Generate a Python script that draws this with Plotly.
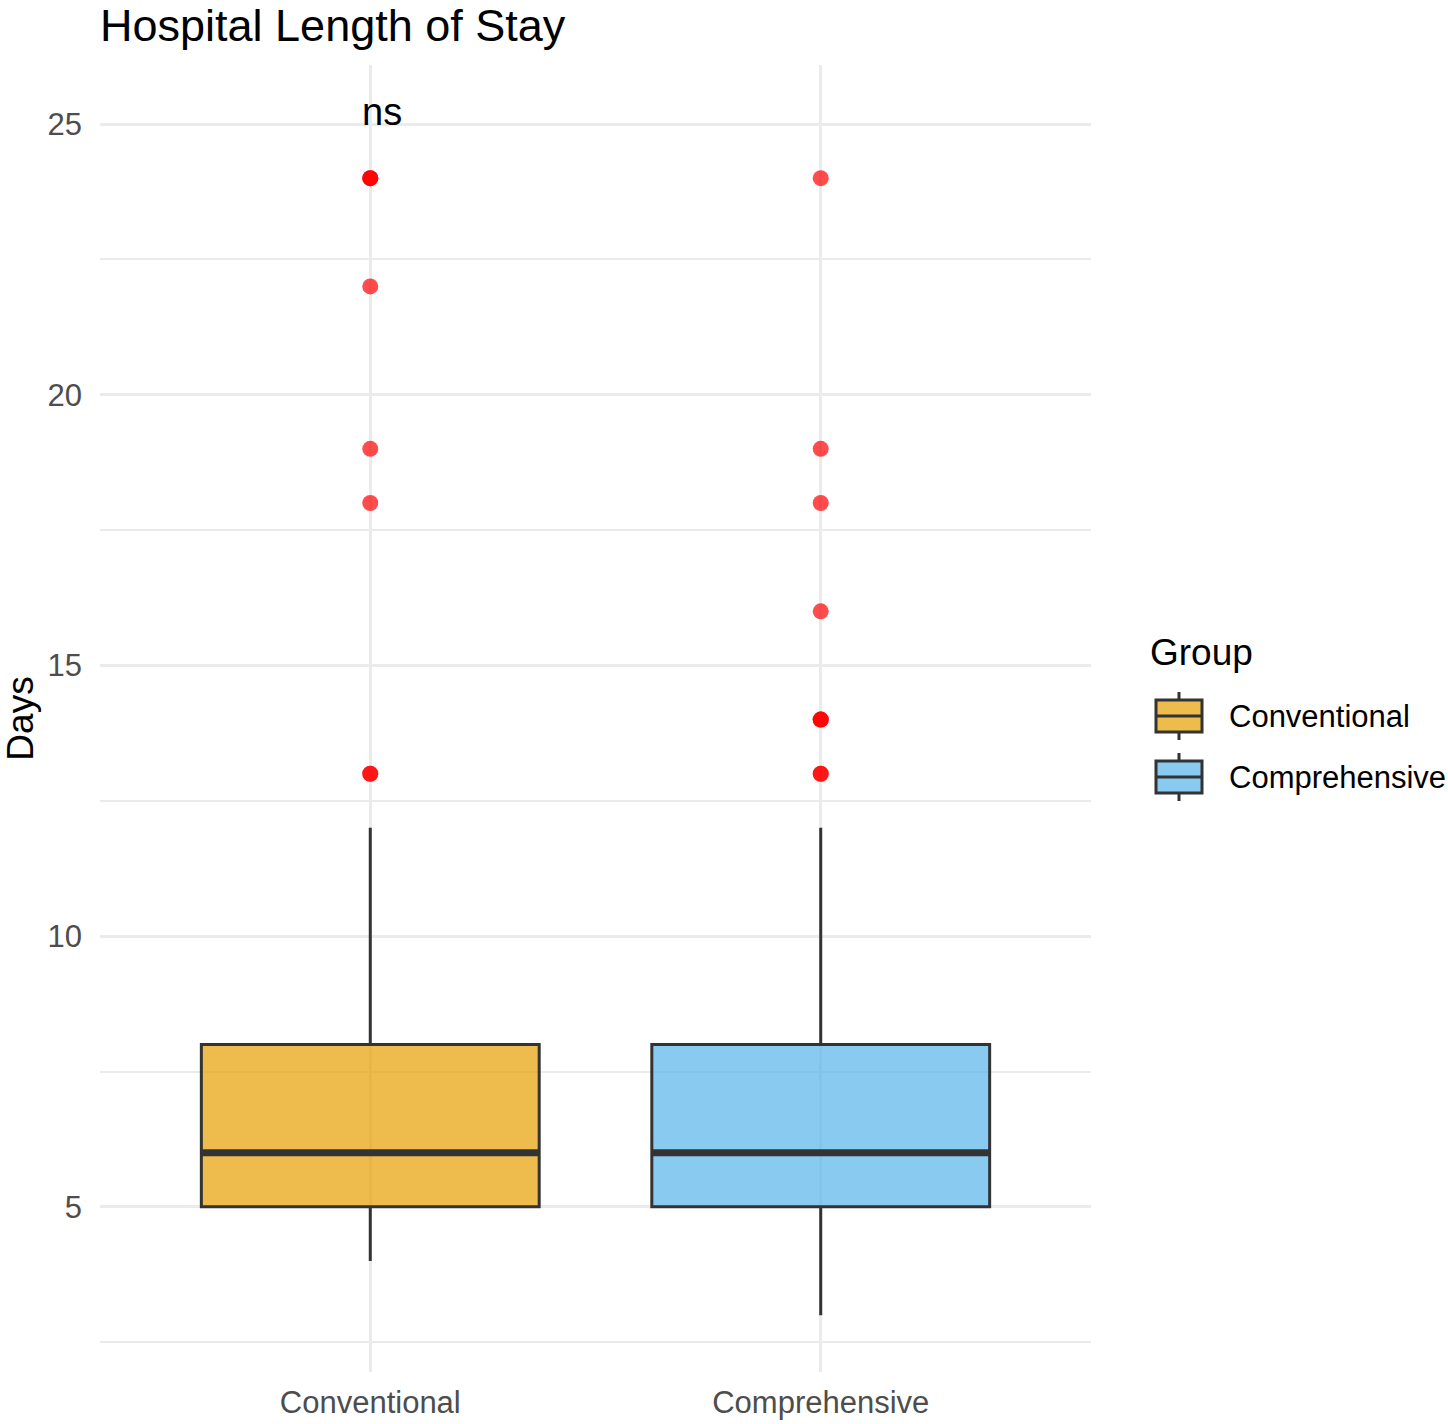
import plotly.graph_objects as go

# --- data ---
groups = ["Conventional", "Comprehensive"]
q1 = [5, 5]
medians = [6, 6]
q3 = [8, 8]
lower_whisker = [4, 3]
upper_whisker = [12, 12]
outliers_conventional = [13, 13, 18, 19, 22, 24, 24, 24]
outliers_comprehensive = [13, 13, 14, 14, 14, 16, 18, 19, 24]
fill_colors = ["rgba(230,159,0,0.7)", "rgba(86,180,233,0.7)"]
y_ticks = [5, 10, 15, 20, 25]

BOX_WIDTH = 0.75
EDGE = "#333333"
GRID = "#EBEBEB"
FONT = "Liberation Sans, Arial, sans-serif"

W, H = 1448, 1424
M_L, M_R, M_T, M_B = 100, 357, 65, 52
PW, PH = W - M_L - M_R, H - M_T - M_B


def px(x):  # pixel -> paper x
    return (x - M_L) / PW


def py(y):  # pixel -> paper y
    return (H - M_B - y) / PH


fig = go.Figure()

for i, g in enumerate(groups):
    fig.add_trace(go.Box(
        x=[g], q1=[q1[i]], median=[medians[i]], q3=[q3[i]],
        lowerfence=[lower_whisker[i]], upperfence=[upper_whisker[i]],
        name=g, boxpoints=False, width=BOX_WIDTH, whiskerwidth=0,
        fillcolor=fill_colors[i], line=dict(color=EDGE, width=3),
        showlegend=False, hoverinfo="skip",
    ))

# thicker median bars like ggplot
for i, m in enumerate(medians):
    fig.add_shape(type="line", xref="x", yref="y",
                  x0=i - BOX_WIDTH / 2, x1=i + BOX_WIDTH / 2, y0=m, y1=m,
                  line=dict(color=EDGE, width=7))

for g, vals in zip(groups, [outliers_conventional, outliers_comprehensive]):
    fig.add_trace(go.Scatter(
        x=[g] * len(vals), y=vals, mode="markers",
        marker=dict(color="rgba(255,0,0,0.7)", size=16, line=dict(width=0)),
        showlegend=False, hoverinfo="skip",
    ))

fig.add_annotation(x=0.027, y=25.22, xref="x", yref="y", text="ns",
                   showarrow=False, font=dict(size=38, color="black", family=FONT),
                   xanchor="center", yanchor="middle")

# --- hand-drawn ggplot-style legend ---
fig.add_annotation(xref="paper", yref="paper", x=px(1148), y=py(652), text="Group",
                   showarrow=False, xanchor="left", yanchor="middle",
                   font=dict(size=37, color="black", family=FONT))
for i, g in enumerate(groups):
    cy = 716 + 61 * i
    cx = 1179
    fig.add_shape(type="line", xref="paper", yref="paper",
                  x0=px(cx), x1=px(cx), y0=py(cy - 24), y1=py(cy + 24),
                  line=dict(color=EDGE, width=3))
    fig.add_shape(type="rect", xref="paper", yref="paper",
                  x0=px(cx - 23), x1=px(cx + 23), y0=py(cy - 16), y1=py(cy + 16),
                  fillcolor="white", line=dict(width=0))
    fig.add_shape(type="rect", xref="paper", yref="paper",
                  x0=px(cx - 23), x1=px(cx + 23), y0=py(cy - 16), y1=py(cy + 16),
                  fillcolor=fill_colors[i], line=dict(color=EDGE, width=3))
    fig.add_shape(type="line", xref="paper", yref="paper",
                  x0=px(cx - 23), x1=px(cx + 23), y0=py(cy), y1=py(cy),
                  line=dict(color=EDGE, width=3))
    fig.add_annotation(xref="paper", yref="paper", x=px(1227), y=py(cy), text=g,
                       showarrow=False, xanchor="left", yanchor="middle",
                       font=dict(size=31, color="black", family=FONT))

fig.update_layout(
    width=W, height=H,
    plot_bgcolor="white", paper_bgcolor="white",
    margin=dict(l=M_L, r=M_R, t=M_T, b=M_B),
    font=dict(family=FONT, size=31, color="#4D4D4D"),
    title=dict(text="Hospital Length of Stay", x=M_L / W, xanchor="left",
               y=1 - 25 / H, yanchor="middle",
               font=dict(size=45, color="black", family=FONT)),
    showlegend=False,
    xaxis=dict(
        categoryorder="array", categoryarray=groups, automargin=False,
        range=[-0.6, 1.6], showgrid=True, gridcolor=GRID, gridwidth=3,
        zeroline=False, showline=False, ticks="", ticklabelstandoff=9,
        tickfont=dict(size=31, color="#4D4D4D"),
    ),
    yaxis=dict(
        title=dict(text="Days", font=dict(size=37, color="black"), standoff=16),
        automargin=False,
        range=[1.95, 26.09], tickvals=y_ticks,
        showgrid=True, gridcolor=GRID, gridwidth=3,
        minor=dict(dtick=2.5, tick0=0, showgrid=True, gridcolor=GRID, gridwidth=1.5),
        zeroline=False, showline=False, ticks="", ticklabelstandoff=17,
        tickfont=dict(size=31, color="#4D4D4D"),
    ),
)

# drop the browser's default body margin so the figure fills the window
fig.write_html("out.html", config={"displayModeBar": False},
               post_script="document.body.style.margin='0';")
